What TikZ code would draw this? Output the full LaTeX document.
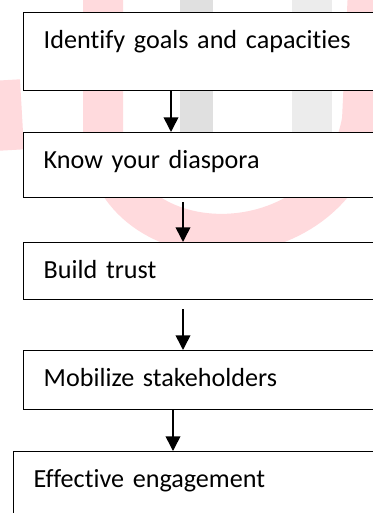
\documentclass[tikz,border=0pt]{standalone}
\usepackage{fontspec}
\setmainfont[Ligatures=NoCommon]{Carlito}
\usetikzlibrary{arrows.meta,calc}

\definecolor{markpink}{RGB}{255,218,221}
\definecolor{markgrey}{RGB}{224,224,224}

\tikzset{
  stage/.style={draw=black, line width=1.1pt, fill=white, anchor=north west,
    inner xsep=15pt, inner ysep=0pt, text height=27pt, align=left,
    font=\fontsize{19.6}{24}\selectfont},
  flow/.style={line width=1.2pt, -{Triangle[length=11pt,width=11pt]}}
}

\begin{document}
\begin{tikzpicture}[x=0.75pt,y=0.75pt,yscale=-1,xscale=1]
\clip (0,0) rectangle (373,513);
\fill[white] (0,0) rectangle (373,513);

%Watermark
\draw[markpink, line width=30] (103,-10) -- (103,125) .. controls (103,270) and (335,272) .. (362,120) -- (368,-10);
\draw[markpink, line width=18] (8,80) -- (12,150);
\fill[markgrey] (180,-5) rectangle (213,135);
\fill[markgrey!60] (292,-5) rectangle (332,135);

%Shapes: Rectangle
\node[stage, text width=252pt, text depth=31.5pt] (goals) at (23,12) {Identify goals and capacities};
\node[stage, text width=252pt, text depth=21.75pt] (diaspora) at (23,132) {Know your diaspora};
\node[stage, text width=252pt, text depth=15.75pt] (trust) at (23,242) {Build trust};
\node[stage, text width=252pt, text depth=17.25pt] (stakeholders) at (23,350) {Mobilize stakeholders};
\node[stage, text width=260pt, text depth=33pt] (engagement) at (13,451) {Effective engagement};

%Straight Lines
\draw[flow] ($(goals.south west)+(148,0)$) -- ($(diaspora.north west)+(148,0)$);
\draw[flow] ($(diaspora.south west)+(160,4)$) -- ($(trust.north west)+(160,0)$);
\draw[flow] ($(trust.south west)+(160,9)$) -- ($(stakeholders.north west)+(160,0)$);
\draw[flow] ($(stakeholders.south west)+(150,0)$) -- ($(engagement.north west)+(160,0)$);

\end{tikzpicture}
\end{document}
